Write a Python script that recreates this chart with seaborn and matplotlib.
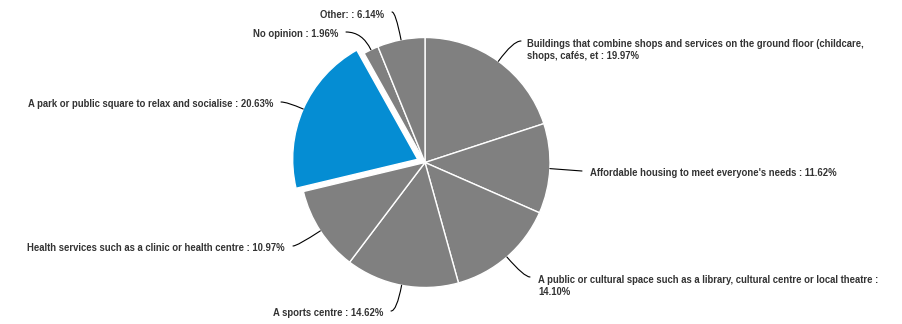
import numpy as np
import matplotlib
matplotlib.use("Agg")
import matplotlib.pyplot as plt
import seaborn as sns

# Survey answers, in drawing order (clockwise from 12 o'clock)
categories = [
    "Buildings that combine shops and services on the ground floor (childcare,\nshops, cafés, et",
    "Affordable housing to meet everyone's needs",
    "A public or cultural space such as a library, cultural centre or local theatre :\n",
    "A sports centre",
    "Health services such as a clinic or health centre",
    "A park or public square to relax and socialise",
    "No opinion",
    "Other:",
]
shares = [19.97, 11.62, 14.10, 14.62, 10.97, 20.63, 1.96, 6.14]
highlight = 5

sns.set_theme(style="white")
plt.rcParams["font.family"] = ["Liberation Sans", "DejaVu Sans"]

W, H = 903, 324
fig = plt.figure(figsize=(W / 100, H / 100), dpi=100)
ax = fig.add_axes([0, 0, 1, 1])

grey = "#808080"
blue = "#058DD3"
colors = [blue if i == highlight else grey for i in range(len(shares))]
# pie() offsets exploded wedges in data units (pixels here)
explode = [8 if i == highlight else 0 for i in range(len(shares))]

cx, cy, r = 425, H - 162.5, 125
wedges, _ = ax.pie(
    shares, colors=colors, explode=explode, startangle=90, counterclock=False,
    center=(cx, cy), radius=r, frame=True,
    wedgeprops=dict(edgecolor="white", linewidth=1.0),
)
ax.set_xlim(0, W)
ax.set_ylim(0, H)
ax.set_aspect("equal")
ax.axis("off")

# label placement: text anchor (x, y from top), horizontal alignment,
# connector end (x, y from top)
layout = [
    (527, 50, "left", (521, 41)),
    (590, 173, "left", (582, 171)),
    (538, 286, "left", (530, 277)),
    (383, 313, "right", (391, 311)),
    (285, 248, "right", (293, 246)),
    (273, 104, "right", (281, 102)),
    (338, 34, "right", (346, 32)),
    (384, 15, "right", (392, 12)),
]

total = sum(shares)
start = 90.0
for i, (cat, val, w) in enumerate(zip(categories, shares, wedges)):
    sweep = 360.0 * val / total
    mid_deg = start - sweep / 2
    start -= sweep
    mid = np.deg2rad(mid_deg)
    ex = w.center[0] + w.r * np.cos(mid)
    ey = w.center[1] + w.r * np.sin(mid)
    tx, ty, ha, (lx, ly) = layout[i]
    if cat.endswith("\n"):
        label = f"{cat}{val:.2f}%"
    else:
        label = f"{cat} : {val:.2f}%"
    if abs(np.sin(mid)) < 0.2:
        conn = "arc3,rad=0"
    else:
        conn = f"angle3,angleA=0,angleB={mid_deg % 360:.1f}"
    ax.annotate(
        "", xy=(ex, ey), xytext=(lx, H - ly),
        arrowprops=dict(arrowstyle="-", color="#000000", lw=0.8,
                        connectionstyle=conn, shrinkA=0, shrinkB=0),
    )
    ax.text(tx, H - ty, label, ha=ha, va="center", fontsize=6.85,
            fontweight="bold", color="#333333", linespacing=1.35,
            multialignment="left")

fig.savefig("out.png", dpi=100)
